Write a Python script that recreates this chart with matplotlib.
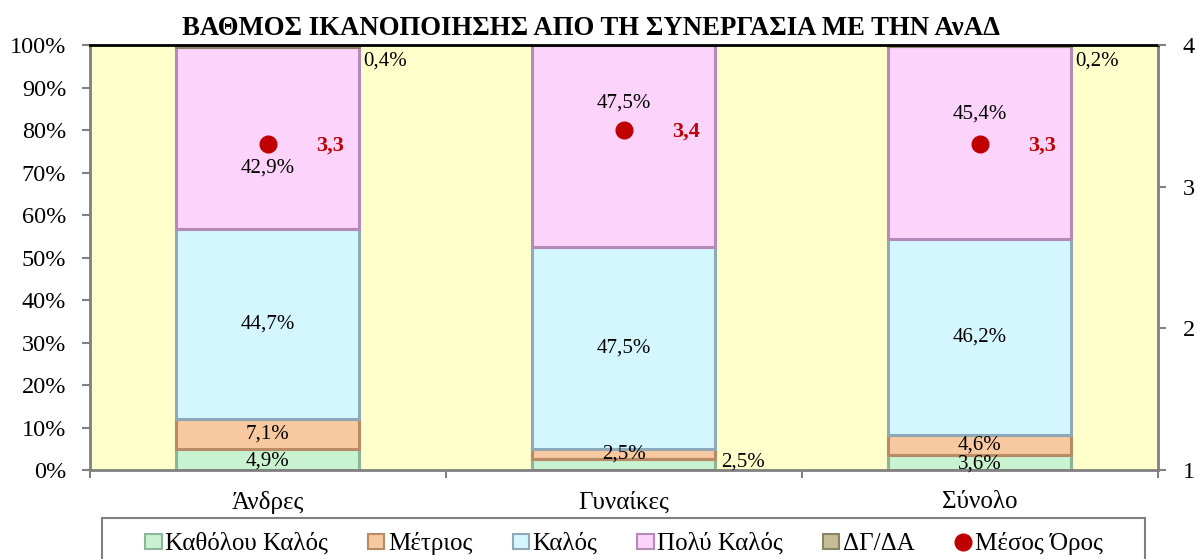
import matplotlib
matplotlib.use("Agg")
import matplotlib.pyplot as plt
import matplotlib.patches as mpatches
from matplotlib.lines import Line2D
import numpy as np

plt.rcParams["font.family"] = ["Liberation Serif", "DejaVu Serif"]

# Δεδομένα
categories = ["Άνδρες", "Γυναίκες", "Σύνολο"]
series_names = ["Καθόλου Καλός", "Μέτριος", "Καλός", "Πολύ Καλός", "ΔΓ/ΔΑ"]
katholou = [4.9, 2.5, 3.6]
metrios = [7.1, 2.5, 4.6]
kalos = [44.7, 47.5, 46.2]
poly_kalos = [42.9, 47.5, 45.4]
dg_da = [0.4, 0.0, 0.2]
mesos_oros = [3.3, 3.4, 3.3]

series = [katholou, metrios, kalos, poly_kalos, dg_da]
face_colors = ["#C9F2D0", "#F8C9A0", "#D4F6FF", "#FBD3FB", "#C4BD97"]
edge_colors = ["#8DB59A", "#B88A66", "#8FA9B8", "#B48AB8", "#8A8466"]

fig = plt.figure(figsize=(11.98, 5.59), dpi=100)
ax = fig.add_axes([0.0751, 0.1592, 0.8915, 0.7603])
ax.set_facecolor("#FFFFCC")

x = np.arange(len(categories))
width = 0.514
bottom = np.zeros(len(categories))
for vals, name, fc, ec in zip(series, series_names, face_colors, edge_colors):
    ax.bar(x, vals, width, bottom=bottom, color=fc, edgecolor=ec,
           linewidth=2.2, label=name, zorder=2)
    bottom += np.array(vals)

ax.set_xlim(-0.5, len(categories) - 0.5)
ax.set_ylim(0, 100)
ax.set_yticks(np.arange(0, 101, 10))
ax.set_yticklabels([f"{v}%" for v in range(0, 101, 10)], fontsize=17.5)
ax.set_xticks(x)
ax.set_xticklabels(categories, fontsize=18)
ax.tick_params(axis="x", length=0, pad=15)
ax.set_xticks(np.arange(-0.5, len(categories), 1), minor=True)
ax.tick_params(axis="x", which="minor", length=6, width=1.5, color="#808080")
ax.tick_params(axis="y", length=6, width=1.5, color="#808080", pad=11)

for s in ["left", "bottom", "right"]:
    ax.spines[s].set_color("#808080")
    ax.spines[s].set_linewidth(2)
ax.spines["top"].set_color("black")
ax.spines["top"].set_linewidth(2)

def fmt(v):
    return f"{v:.1f}%".replace(".", ",")

# ετικέτες τιμών
lbl = 15
pink_shift = [-7, 10, 6.6]
for i in range(len(categories)):
    b = 0
    # Καθόλου Καλός
    if katholou[i] >= 3:
        ax.text(x[i], b + katholou[i] / 2 - 0.3, fmt(katholou[i]), ha="center",
                va="center", fontsize=lbl, zorder=4)
    else:
        ax.text(x[i] + width / 2 + 0.015, b + katholou[i] / 2 + 0.7, fmt(katholou[i]),
                ha="left", va="center", fontsize=lbl, zorder=4)
    b += katholou[i]
    ax.text(x[i], b + metrios[i] / 2, fmt(metrios[i]), ha="center",
            va="center", fontsize=lbl, zorder=4)
    b += metrios[i]
    ax.text(x[i], b + kalos[i] / 2, fmt(kalos[i]), ha="center",
            va="center", fontsize=lbl, zorder=4)
    b += kalos[i]
    ax.text(x[i], b + poly_kalos[i] / 2 + pink_shift[i], fmt(poly_kalos[i]),
            ha="center", va="center", fontsize=lbl, zorder=4)
    b += poly_kalos[i]
    if dg_da[i] > 0:
        ax.text(x[i] + width / 2 + 0.012, 96.3, fmt(dg_da[i]), ha="left",
                va="center", fontsize=lbl, zorder=4)

# δεύτερος άξονας: μέσος όρος
ax2 = ax.twinx()
ax2.set_ylim(1, 4)
ax2.set_yticks([1, 2, 3, 4])
ax2.set_yticklabels(["1", "2", "3", "4"], fontsize=17.5)
ax2.tick_params(axis="y", length=6, width=1.5, color="#808080", pad=12)
for s in ax2.spines.values():
    s.set_visible(False)
ax2.plot(x, mesos_oros, linestyle="none", marker="o", markersize=12,
         color="#C00000", zorder=5)
for xi, m in zip(x, mesos_oros):
    ax2.annotate(f"{m:.1f}".replace(".", ","), (xi, m), xytext=(45, -1),
                 textcoords="offset points", ha="center", va="center",
                 fontsize=16, fontweight="bold", color="#C00000")

ax.set_title("ΒΑΘΜΟΣ ΙΚΑΝΟΠΟΙΗΣΗΣ ΑΠΟ ΤΗ ΣΥΝΕΡΓΑΣΙΑ ΜΕ ΤΗΝ ΑνΑΔ",
             fontsize=19.3, fontweight="bold", pad=7, x=0.469)

handles = [mpatches.Patch(facecolor=fc, edgecolor=ec, linewidth=1.5)
           for fc, ec in zip(face_colors, edge_colors)]
handles.append(Line2D([], [], linestyle="none", marker="o", markersize=12,
                      color="#C00000"))
labels = series_names + ["Μέσος Όρος"]
leg = fig.legend(handles, labels, loc="upper center", ncol=6,
                 bbox_to_anchor=(624 / 1198, 1 - 532 / 559), fontsize=18,
                 frameon=False, handlelength=0.65, handleheight=0.55,
                 handletextpad=0.15, borderaxespad=0, borderpad=0,
                 columnspacing=1.6)

# πλαίσιο υπομνήματος
frame = mpatches.Rectangle((102 / 1198, -0.05), 1043 / 1198, 0.05 + 41 / 559,
                           transform=fig.transFigure, facecolor="none",
                           edgecolor="#808080", linewidth=1.5)
fig.patches.append(frame)

fig.savefig("out.png", dpi=100)
